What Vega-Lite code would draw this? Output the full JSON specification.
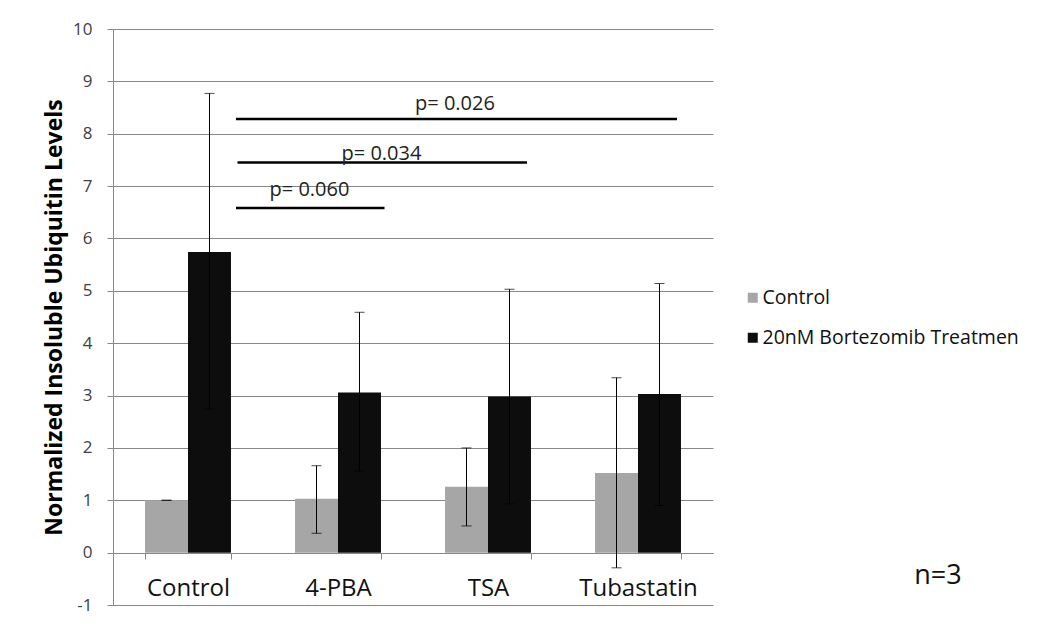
{
  "$schema": "https://vega.github.io/schema/vega-lite/v6.json",
  "width": 600,
  "height": 576,
  "autosize": {"type": "none"},
  "padding": {"left": 113, "top": 29, "right": 324, "bottom": 20},
  "background": "white",
  "config": {"font": "Open Sans", "view": {"stroke": null}},
  "datasets": {
    "bars": [
      {"cat": "Control", "series": "Control", "mean": 1.0, "lo": 1.0, "hi": 1.0},
      {"cat": "Control", "series": "20nM Bortezomib Treatmen", "mean": 5.74, "lo": 2.74, "hi": 8.77},
      {"cat": "4-PBA", "series": "Control", "mean": 1.03, "lo": 0.37, "hi": 1.66},
      {"cat": "4-PBA", "series": "20nM Bortezomib Treatmen", "mean": 3.06, "lo": 1.56, "hi": 4.59},
      {"cat": "TSA", "series": "Control", "mean": 1.26, "lo": 0.51, "hi": 2.0},
      {"cat": "TSA", "series": "20nM Bortezomib Treatmen", "mean": 2.98, "lo": 0.93, "hi": 5.03},
      {"cat": "Tubastatin", "series": "Control", "mean": 1.52, "lo": -0.29, "hi": 3.34},
      {"cat": "Tubastatin", "series": "20nM Bortezomib Treatmen", "mean": 3.03, "lo": 0.9, "hi": 5.14}
    ],
    "sig": [
      {"p": "p= 0.026", "x1": 0.82, "x2": 3.76, "y": 8.28, "xl": 2.28, "yl": 8.57},
      {"p": "p= 0.034", "x1": 0.83, "x2": 2.76, "y": 7.45, "xl": 1.79, "yl": 7.62},
      {"p": "p= 0.060", "x1": 0.82, "x2": 1.81, "y": 6.58, "xl": 1.31, "yl": 6.92}
    ],
    "note": [
      {"t": "n=3", "x": 5.5, "y": -0.45}
    ]
  },
  "layer": [
    {
      "data": {"name": "bars"},
      "encoding": {
        "x": {
          "field": "cat", "type": "nominal",
          "sort": ["Control", "4-PBA", "TSA", "Tubastatin"],
          "scale": {"paddingInner": 0.427, "paddingOuter": 0.2135},
          "axis": {
            "title": null, "labelAngle": 0, "labelFontSize": 24, "labelColor": "#111",
            "offset": -52, "tickBand": "extent", "tickSize": 6,
            "tickColor": "#888", "domainColor": "#888", "labelPadding": 17, "grid": false
          }
        },
        "xOffset": {
          "field": "series", "type": "nominal",
          "sort": ["Control", "20nM Bortezomib Treatmen"],
          "scale": {"paddingInner": 0, "paddingOuter": 0}
        }
      },
      "layer": [
        {
          "mark": {"type": "bar"},
          "encoding": {
            "y": {
              "field": "mean", "type": "quantitative",
              "scale": {"domain": [-1, 10], "nice": false, "zero": false},
              "axis": {
                "values": [-1, 0, 1, 2, 3, 4, 5, 6, 7, 8, 9, 10],
                "labelExpr": "toString(datum.value)",
                "title": "Normalized Insoluble Ubiquitin Levels",
                "titleFontSize": 23, "titleFontWeight": "bold", "titleColor": "#000",
                "titlePadding": 6,
                "labelFontSize": 17, "labelColor": "#404040", "labelPadding": 15,
                "tickSize": 6, "tickColor": "#888", "domainColor": "#888",
                "grid": true, "gridColor": "#888", "gridOpacity": 1
              }
            },
            "y2": {"datum": 0},
            "color": {
              "field": "series", "type": "nominal",
              "sort": ["Control", "20nM Bortezomib Treatmen"],
              "scale": {"domain": ["Control", "20nM Bortezomib Treatmen"], "range": ["#a6a6a6", "#0d0d0d"]},
              "legend": {
                "title": null, "orient": "none", "legendX": 630, "legendY": 259,
                "symbolType": "square", "symbolSize": 100, "symbolStrokeWidth": 0,
                "labelFontSize": 19.5, "labelColor": "#111", "labelOffset": 0,
                "labelLimit": 400, "rowPadding": 19, "padding": 0
              }
            }
          }
        },
        {
          "mark": {"type": "rule", "color": "#000", "strokeWidth": 1},
          "encoding": {
            "y": {"field": "lo", "type": "quantitative", "scale": {"domain": [-1, 10], "nice": false, "zero": false}},
            "y2": {"field": "hi"}
          }
        },
        {
          "mark": {"type": "tick", "color": "#000", "size": 10, "thickness": 1},
          "encoding": {
            "y": {"field": "lo", "type": "quantitative", "scale": {"domain": [-1, 10], "nice": false, "zero": false}}
          }
        },
        {
          "mark": {"type": "tick", "color": "#000", "size": 10, "thickness": 1},
          "encoding": {
            "y": {"field": "hi", "type": "quantitative", "scale": {"domain": [-1, 10], "nice": false, "zero": false}}
          }
        }
      ]
    },
    {
      "data": {"name": "sig"},
      "layer": [
        {
          "mark": {"type": "rule", "color": "#000", "strokeWidth": 2.5},
          "encoding": {
            "x": {"field": "x1", "type": "quantitative", "scale": {"domain": [0, 4], "nice": false, "zero": false}, "axis": null},
            "x2": {"field": "x2"},
            "y": {"field": "y", "type": "quantitative", "scale": {"domain": [-1, 10], "nice": false, "zero": false}}
          }
        },
        {
          "mark": {"type": "text", "fontSize": 20, "color": "#222", "baseline": "middle", "align": "center"},
          "encoding": {
            "x": {"field": "xl", "type": "quantitative", "scale": {"domain": [0, 4], "nice": false, "zero": false}, "axis": null},
            "y": {"field": "yl", "type": "quantitative", "scale": {"domain": [-1, 10], "nice": false, "zero": false}},
            "text": {"field": "p"}
          }
        }
      ]
    },
    {
      "data": {"name": "note"},
      "mark": {"type": "text", "fontSize": 27, "color": "#111", "baseline": "middle", "align": "center"},
      "encoding": {
        "x": {"field": "x", "type": "quantitative", "scale": {"domain": [0, 4], "nice": false, "zero": false}, "axis": null},
        "y": {"field": "y", "type": "quantitative", "scale": {"domain": [-1, 10], "nice": false, "zero": false}},
        "text": {"field": "t"}
      }
    }
  ],
  "resolve": {"scale": {"x": "independent"}}
}
